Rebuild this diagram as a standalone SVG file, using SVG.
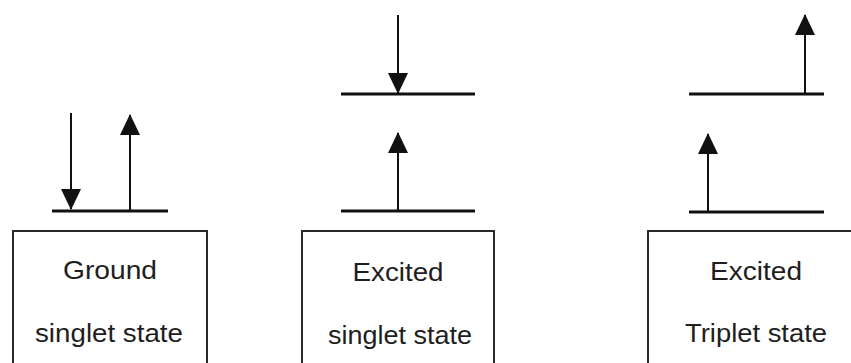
<svg xmlns="http://www.w3.org/2000/svg" width="851" height="363" viewBox="0 0 851 363">
  <style>
    .box { fill: none; stroke: #2a2a2a; stroke-width: 2; }
    .level { stroke: #111; stroke-width: 3; }
    .arrow { stroke: #111; stroke-width: 2; fill: none; }
    .label { font-family: "Liberation Sans", Arial, sans-serif; font-size: 26px; fill: #1e1e1e; text-anchor: middle; }
  </style>
  <defs>
    <marker id="head" viewBox="0 0 21 20" refX="20" refY="10" markerWidth="21" markerHeight="20" markerUnits="userSpaceOnUse" orient="auto">
      <path d="M0,0 L21,10 L0,20 Z" fill="#111"/>
    </marker>
  </defs>
  <rect width="851" height="363" fill="#ffffff"/>

  <g id="ground">
    <rect class="box" x="13" y="231" width="194" height="150"/>
    <text class="label" x="110" y="279" textLength="94" lengthAdjust="spacingAndGlyphs">Ground</text>
    <text class="label" x="109" y="342" textLength="148" lengthAdjust="spacingAndGlyphs">singlet state</text>
    <line class="level" x1="52" y1="211" x2="168" y2="211"/>
  </g>

  <g id="excited-singlet">
    <rect class="box" x="302" y="231" width="192" height="150"/>
    <text class="label" x="398" y="281" textLength="91" lengthAdjust="spacingAndGlyphs">Excited</text>
    <text class="label" x="400" y="344" textLength="144" lengthAdjust="spacingAndGlyphs">singlet state</text>
    <line class="level" x1="341" y1="94" x2="475" y2="94"/>
    <line class="level" x1="341" y1="211" x2="475" y2="211"/>
  </g>

  <g id="excited-triplet">
    <rect class="box" x="648" y="231" width="215" height="150"/>
    <text class="label" x="756" y="280" textLength="92" lengthAdjust="spacingAndGlyphs">Excited</text>
    <text class="label" x="756" y="342" textLength="142" lengthAdjust="spacingAndGlyphs">Triplet state</text>
    <line class="level" x1="689" y1="94" x2="824" y2="94"/>
    <line class="level" x1="689" y1="212" x2="824" y2="212"/>
  </g>

  <g id="connectors">
    <line class="arrow" x1="71" y1="113" x2="71" y2="209" marker-end="url(#head)"/>
    <line class="arrow" x1="130" y1="210" x2="130" y2="115" marker-end="url(#head)"/>
    <line class="arrow" x1="398" y1="15" x2="398" y2="93" marker-end="url(#head)"/>
    <line class="arrow" x1="398" y1="210" x2="398" y2="133" marker-end="url(#head)"/>
    <line class="arrow" x1="805" y1="93" x2="805" y2="15" marker-end="url(#head)"/>
    <line class="arrow" x1="708" y1="211" x2="708" y2="134" marker-end="url(#head)"/>
  </g>
</svg>
